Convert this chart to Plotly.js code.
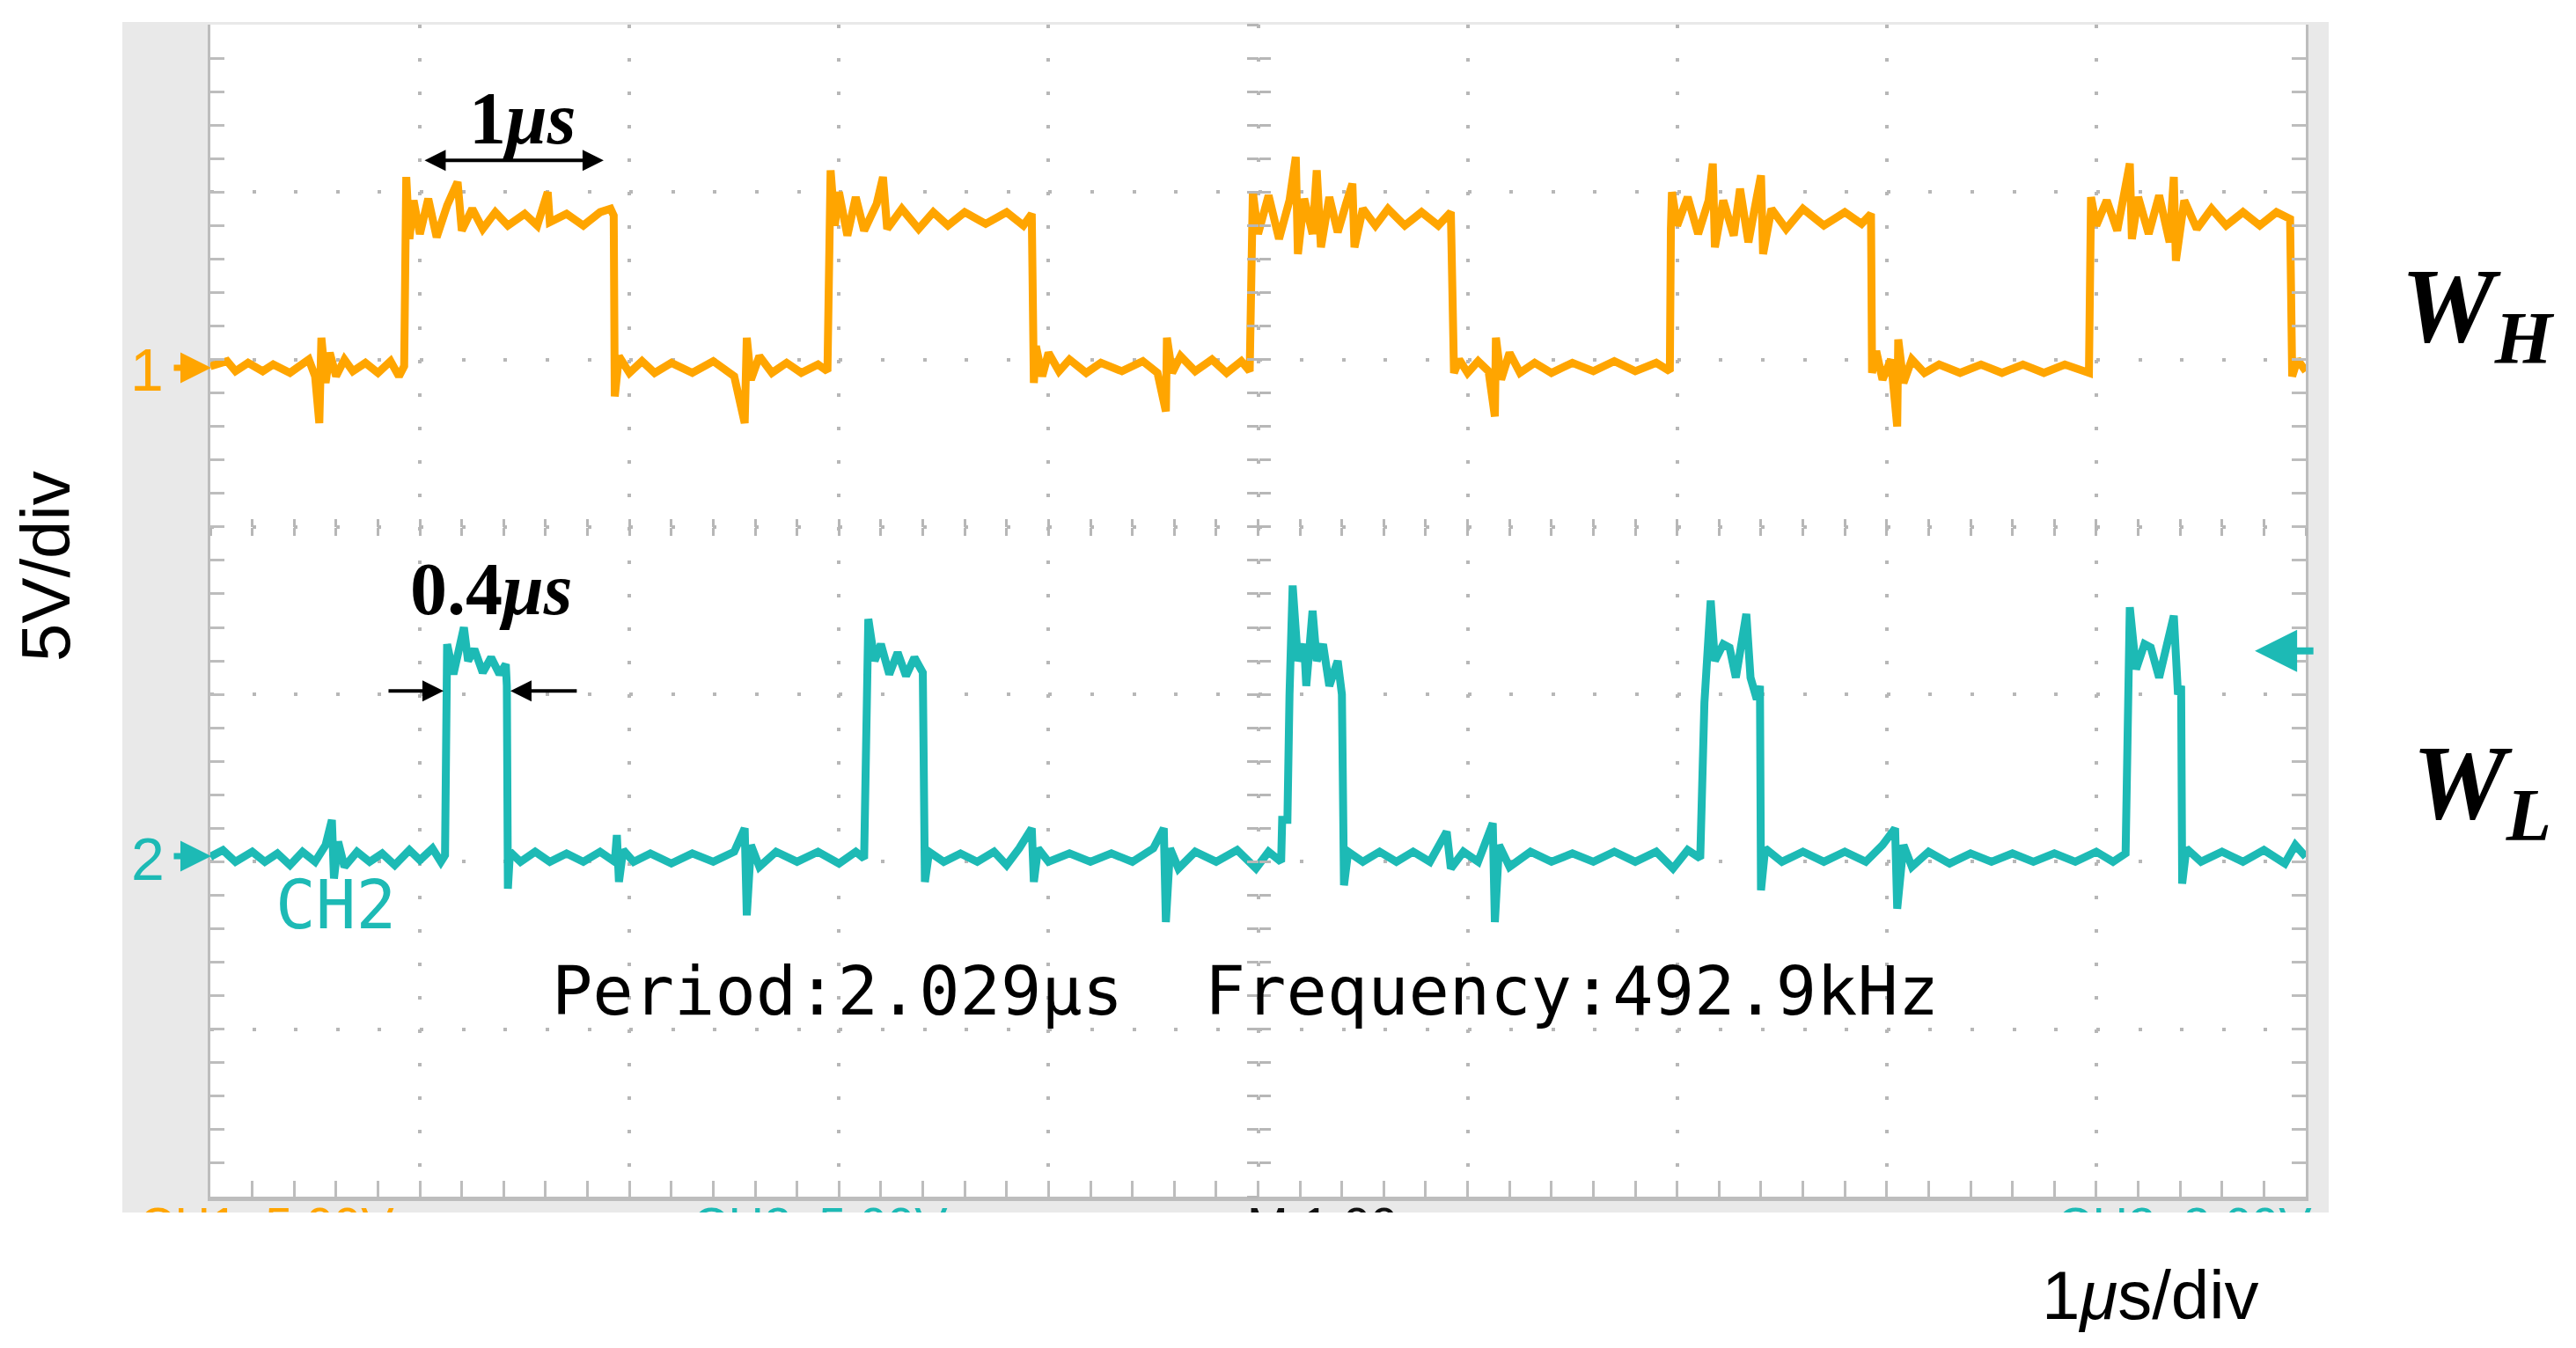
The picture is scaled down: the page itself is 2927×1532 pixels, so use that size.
<!DOCTYPE html>
<html>
<head>
<meta charset="utf-8">
<script src="https://cdn.plot.ly/plotly-3.0.1.min.js"></script>
<style>
html,body{margin:0;padding:0;background:#ffffff;}
#chart{width:2927px;height:1532px;}
</style>
</head>
<body>
<div id="chart"></div>
<script>
// ---------------- data (x in µs = divisions, y in divisions) ----------------
const ch1Time = [0,0.08,0.12,0.18,0.25,0.3,0.38,0.42,0.47,0.5,0.52,0.53,0.55,0.57,0.6,0.64,0.68,0.74,0.8,0.86,0.9,0.925,
 0.93,0.935,0.95,0.97,1.0,1.04,1.08,1.13,1.18,1.2,1.25,1.3,1.36,1.42,1.5,1.56,1.61,1.62,1.7,1.78,1.86,1.91,1.925,
 1.93,1.95,2.0,2.06,2.12,2.2,2.3,2.4,2.5,2.55,2.56,2.58,2.62,2.68,2.75,2.82,2.9,2.945,
 2.955,2.96,2.98,3.0,3.04,3.08,3.12,3.18,3.21,3.23,3.3,3.38,3.45,3.52,3.6,3.7,3.8,3.88,3.92,
 3.93,3.94,3.97,4.0,4.05,4.1,4.18,4.25,4.35,4.45,4.52,4.56,4.565,4.59,4.63,4.7,4.78,4.85,4.92,4.96,
 4.97,4.975,5.0,5.05,5.1,5.15,5.18,5.19,5.22,5.26,5.28,5.3,5.34,5.38,5.42,5.45,5.46,5.5,5.56,5.62,5.7,5.78,5.86,5.92,
 5.935,5.96,6.0,6.05,6.1,6.13,6.135,6.16,6.2,6.25,6.32,6.4,6.5,6.6,6.7,6.8,6.9,6.965,
 6.97,6.975,7.0,7.05,7.1,7.15,7.17,7.18,7.22,7.27,7.3,7.34,7.38,7.4,7.41,7.45,7.52,7.6,7.7,7.8,7.88,7.925,
 7.93,7.95,7.98,8.02,8.05,8.055,8.08,8.12,8.18,8.25,8.35,8.45,8.55,8.65,8.75,8.85,8.965,
 8.97,8.975,9.0,9.05,9.1,9.16,9.17,9.2,9.25,9.3,9.35,9.37,9.38,9.42,9.48,9.55,9.62,9.7,9.78,9.86,9.925,
 9.935,9.96,10];
const ch1Level = [4.96,4.99,4.93,4.98,4.93,4.97,4.92,4.96,5.0,4.9,4.62,5.13,4.86,5.04,4.9,5.0,4.93,4.98,4.92,4.99,4.9,4.96,
 5.7,6.09,5.72,5.95,5.75,5.96,5.73,5.92,6.06,5.77,5.9,5.78,5.88,5.8,5.87,5.8,6.0,5.82,5.87,5.8,5.88,5.9,5.86,
 4.78,5.02,4.92,4.99,4.92,4.98,4.92,4.99,4.9,4.62,5.13,4.88,5.02,4.92,4.98,4.92,4.97,4.93,
 5.7,6.13,5.8,6.0,5.74,5.97,5.77,5.93,6.09,5.78,5.9,5.78,5.88,5.8,5.88,5.81,5.88,5.8,5.87,
 4.86,5.08,4.9,5.04,4.93,5.0,4.92,4.98,4.93,4.99,4.92,4.69,5.13,4.92,5.02,4.93,5.0,4.92,4.99,4.93,
 5.8,6.0,5.75,5.98,5.72,5.95,6.21,5.63,5.96,5.75,6.13,5.67,5.97,5.76,5.93,6.05,5.67,5.9,5.8,5.9,5.8,5.88,5.8,5.88,
 4.92,5.0,4.92,4.99,4.93,4.66,5.13,4.88,5.04,4.92,4.98,4.92,4.98,4.93,4.99,4.93,4.98,4.93,
 5.78,6.0,5.8,5.97,5.75,5.95,6.17,5.67,5.95,5.74,6.02,5.7,5.97,6.1,5.63,5.9,5.78,5.9,5.8,5.88,5.81,5.87,
 4.92,5.05,4.88,5.0,4.6,5.12,4.86,5.0,4.92,4.97,4.92,4.97,4.92,4.97,4.92,4.97,4.92,
 5.82,5.97,5.8,5.95,5.77,6.17,5.72,5.97,5.75,5.98,5.7,6.09,5.59,5.95,5.78,5.9,5.8,5.88,5.8,5.88,5.84,
 4.9,5.0,4.93];

const ch2Time = [0,0.06,0.12,0.2,0.26,0.32,0.38,0.44,0.5,0.55,0.58,0.59,0.61,0.64,0.7,0.76,0.82,0.88,0.95,1.0,1.06,1.1,1.12,
 1.126,1.13,1.16,1.2,1.21,1.23,1.26,1.3,1.34,1.38,1.41,1.415,
 1.42,1.43,1.48,1.55,1.62,1.7,1.78,1.86,1.93,1.94,1.95,1.97,2.02,2.1,2.2,2.3,2.4,2.5,2.55,2.56,2.58,2.62,2.7,2.8,2.9,3.0,3.08,3.12,
 3.13,3.14,3.17,3.2,3.24,3.28,3.32,3.36,3.4,
 3.41,3.43,3.5,3.58,3.66,3.74,3.8,3.86,3.92,3.93,3.95,4.0,4.1,4.2,4.3,4.4,4.5,4.55,4.56,4.58,4.62,4.7,4.8,4.9,4.99,5.05,5.11,
 5.115,5.14,5.15,5.165,5.19,5.22,5.23,5.26,5.28,5.31,5.34,5.38,5.4,
 5.41,5.43,5.5,5.58,5.66,5.74,5.82,5.9,5.92,5.98,6.05,6.12,6.13,6.15,6.2,6.3,6.4,6.5,6.6,6.7,6.8,6.9,6.98,7.05,7.11,
 7.13,7.16,7.18,7.22,7.25,7.28,7.33,7.35,7.38,7.395,
 7.4,7.42,7.5,7.6,7.7,7.8,7.9,7.98,8.04,8.05,8.08,8.12,8.2,8.3,8.4,8.5,8.6,8.7,8.8,8.9,9.0,9.08,9.14,
 9.15,9.16,9.19,9.23,9.26,9.3,9.37,9.39,9.405,
 9.41,9.43,9.5,9.6,9.7,9.8,9.9,9.95,10];
const ch2Level = [2.03,2.07,2.0,2.06,2.0,2.05,1.98,2.06,2.0,2.1,2.25,1.9,2.12,1.97,2.06,2.0,2.05,1.98,2.07,2.01,2.08,2.0,2.04,
 2.93,3.3,3.12,3.35,3.4,3.2,3.27,3.13,3.22,3.12,3.18,3.05,
 1.84,2.06,2.0,2.06,2.0,2.05,2.0,2.06,2.0,2.16,1.88,2.07,2.0,2.05,1.99,2.05,2.0,2.06,2.2,1.68,2.1,1.97,2.06,2.0,2.06,1.99,2.06,2.02,
 3.0,3.45,3.2,3.3,3.12,3.25,3.11,3.22,3.13,
 1.88,2.06,2.0,2.05,2.0,2.06,1.98,2.08,2.2,1.88,2.08,2.0,2.05,2.0,2.05,2.0,2.08,2.2,1.64,2.08,1.96,2.06,2.0,2.07,1.96,2.06,2.0,
 2.25,2.25,3.0,3.65,3.2,3.3,3.05,3.5,3.2,3.3,3.05,3.2,3.0,
 1.86,2.06,2.0,2.06,2.0,2.06,2.0,2.18,1.96,2.06,2.0,2.23,1.64,2.1,1.97,2.06,2.0,2.05,2.0,2.06,2.0,2.06,1.96,2.07,2.02,
 2.95,3.56,3.2,3.3,3.28,3.1,3.48,3.1,2.97,3.05,
 1.83,2.08,2.0,2.06,2.0,2.06,2.0,2.1,2.2,1.72,2.1,1.97,2.06,1.99,2.05,2.0,2.05,2.0,2.05,2.0,2.06,2.0,2.05,
 3.0,3.52,3.15,3.3,3.28,3.1,3.47,3.0,3.05,
 1.87,2.08,2.0,2.06,2.0,2.07,1.99,2.1,2.03];

const channelLabels = ['W', 'H', 'L'];
const channelMarks = ['1', '2', 'CH2'];
const pulseLabels = ['1', '0.4'];
const measurementText = 'Period:2.029μs  Frequency:492.9kHz';
const readoutTexts = ['CH1  5.00V', 'CH2  5.00V', 'M 1.00μs', 'CH2  2.60V'];
const scaleLabels = ['5V/div', '1<i>μ</i>s/div'];

// ---------------- geometry & style ----------------
const W = 2927, H = 1532;
const PX = x => x / W;
const PY = y => 1 - y / H;
const L = 239, R = 2620, T = 28, B = 1360;
const ORANGE = '#FFA500', TEAL = '#1DBAB5', GRID = '#b7b7b7', AX = '#bdbdbd';
const xDiv = (R - L) / 10, yDiv = (B - T) / 7;

const traces = [
  {type:'scatter', mode:'lines', x: ch1Time, y: ch1Level, line:{color:ORANGE, width:9}, hoverinfo:'skip'},
  {type:'scatter', mode:'lines', x: ch2Time, y: ch2Level, line:{color:TEAL, width:9}, hoverinfo:'skip'},
  {type:'scatter', x:[], y:[], xaxis:'x', yaxis:'y3', hoverinfo:'skip'},
  {type:'scatter', x:[], y:[], xaxis:'x', yaxis:'y4', hoverinfo:'skip'},
  {type:'scatter', x:[], y:[], xaxis:'x3', yaxis:'y', hoverinfo:'skip'},
  {type:'scatter', x:[], y:[], xaxis:'x4', yaxis:'y', hoverinfo:'skip'},
  {type:'scatter', mode:'text', xaxis:'x5', yaxis:'y5', cliponaxis:true, hoverinfo:'skip',
   x:[158, 787, 1417, 2337], y:[1369,1369,1369,1369], text: readoutTexts, textposition:'bottom right',
   textfont:{family:'Liberation Sans, Arial, sans-serif', size:56, color:[ORANGE, TEAL, '#111111', TEAL]}}
];

const centerTicks = (ticks, len) => ({ticks: ticks, ticklen: len, tickwidth: 3, tickcolor: GRID,
  tickmode:'linear', tick0:0, dtick:0.2, showline:false, showgrid:false, zeroline:false, showticklabels:false});

const C = {xanchor:'center', yanchor:'middle', showarrow:false};
const ann = o => Object.assign({}, C, o);

const layout = {
  width: W, height: H,
  margin: {l:0, r:0, t:0, b:0, pad:0},
  paper_bgcolor: '#ffffff', plot_bgcolor: 'rgba(0,0,0,0)',
  showlegend: false,
  font: {family: 'Liberation Sans, Arial, sans-serif', color: '#000'},
  xaxis: {domain:[PX(L), PX(R)], range:[0,10], anchor:'y', showticklabels:false,
    showline:true, linecolor:AX, linewidth:5, mirror:false,
    ticks:'inside', ticklen:18, tickwidth:3, tickcolor:AX, tickmode:'linear', tick0:0, dtick:1,
    minor:{tickmode:'linear', tick0:0, dtick:0.2, ticks:'inside', ticklen:18, tickwidth:3, tickcolor:AX, showgrid:false},
    showgrid:true, gridcolor:GRID, gridwidth:4, griddash:'4px,' + (yDiv/5 - 4).toFixed(2) + 'px', zeroline:false},
  yaxis: {domain:[PY(B), PY(T)], range:[0,7], anchor:'x', showticklabels:false,
    showline:true, linecolor:AX, linewidth:3, mirror:'ticks',
    ticks:'inside', ticklen:16, tickwidth:3, tickcolor:AX, tickmode:'linear', tick0:0, dtick:1,
    minor:{tickmode:'linear', tick0:0, dtick:0.2, ticks:'inside', ticklen:16, tickwidth:3, tickcolor:AX, showgrid:false},
    showgrid:true, gridcolor:GRID, gridwidth:4, griddash:'4px,' + (xDiv/5 - 4).toFixed(2) + 'px', zeroline:false},
  yaxis3: Object.assign({overlaying:'y', anchor:'free', side:'left', position:PX(L + 5*xDiv), range:[0,7]}, centerTicks('inside', 13)),
  yaxis4: Object.assign({overlaying:'y', anchor:'free', side:'left', position:PX(L + 5*xDiv), range:[0,7]}, centerTicks('outside', 13)),
  xaxis3: Object.assign({overlaying:'x', anchor:'free', side:'bottom', position:PY(B - 4*yDiv), range:[0,10]}, centerTicks('inside', 9)),
  xaxis4: Object.assign({overlaying:'x', anchor:'free', side:'bottom', position:PY(B - 4*yDiv), range:[0,10]}, centerTicks('outside', 9)),
  xaxis5: {domain:[PX(139), PX(2646)], range:[139, 2646], anchor:'y5', visible:false, fixedrange:true},
  yaxis5: {domain:[PY(1378), PY(1363)], range:[1378, 1363], anchor:'x5', visible:false, fixedrange:true},
  shapes: [
    {type:'rect', xref:'paper', yref:'paper', x0:PX(139), x1:PX(2646), y0:PY(1378), y1:PY(25),
     fillcolor:'#e9e9e9', line:{width:0}, layer:'below'},
    {type:'rect', xref:'paper', yref:'paper', x0:PX(L), x1:PX(R), y0:PY(B), y1:PY(T),
     fillcolor:'#ffffff', line:{width:0}, layer:'below'}
  ],
  annotations: [
    // pulse-width labels
    ann({xref:'x', yref:'y', x:1.487, y:6.44,
     text:'<b>' + pulseLabels[0] + '<i>μs</i></b>', font:{family:'Liberation Serif, Times New Roman, serif', size:84, color:'#000'}}),
    {xref:'x', yref:'y', x:1.877, y:6.19, axref:'x', ayref:'y', ax:1.016, ay:6.19, text:'', showarrow:true,
     arrowside:'end+start', arrowhead:2, startarrowhead:2, arrowsize:1.2, startarrowsize:1.2, arrowwidth:4, arrowcolor:'#000'},
    ann({xref:'x', yref:'y', x:1.34, y:3.63,
     text:'<b>' + pulseLabels[1] + '<i>μs</i></b>', font:{family:'Liberation Serif, Times New Roman, serif', size:84, color:'#000'}}),
    {xref:'x', yref:'y', x:1.113, y:3.02, axref:'x', ayref:'y', ax:0.844, ay:3.02, text:'', showarrow:true,
     arrowhead:2, arrowsize:1.2, arrowwidth:4, arrowcolor:'#000'},
    {xref:'x', yref:'y', x:1.432, y:3.02, axref:'x', ayref:'y', ax:1.755, ay:3.02, text:'', showarrow:true,
     arrowhead:2, arrowsize:1.2, arrowwidth:4, arrowcolor:'#000'},
    // measurement readout
    ann({xref:'x', yref:'y', x:4.94, y:1.226, text: measurementText,
     font:{family:'DejaVu Sans Mono, monospace', size:77, color:'#000'}}),
    ann({xref:'x', yref:'y', x:0.6, y:1.74, text: channelMarks[2],
     font:{family:'DejaVu Sans Mono, monospace', size:76, color:TEAL}}),
    // channel ground markers
    ann({xref:'paper', yref:'paper', x:PX(167), y:PY(420), text: channelMarks[0],
     font:{family:'Liberation Sans, Arial, sans-serif', size:68, color:ORANGE}}),
    {xref:'paper', yref:'paper', x:PX(240), y:PY(418), ax:-44, ay:0, text:'', showarrow:true,
     arrowhead:2, arrowsize:1, arrowwidth:7, arrowcolor:ORANGE},
    ann({xref:'paper', yref:'paper', x:PX(168), y:PY(976), text: channelMarks[1],
     font:{family:'Liberation Sans, Arial, sans-serif', size:68, color:TEAL}}),
    {xref:'paper', yref:'paper', x:PX(240), y:PY(973), ax:-44, ay:0, text:'', showarrow:true,
     arrowhead:2, arrowsize:1, arrowwidth:7, arrowcolor:TEAL},
    // trigger level arrow
    {xref:'x', yref:'y', x:9.757, y:3.26, ax:68, ay:0, text:'', showarrow:true,
     arrowhead:2, arrowsize:1.2, arrowwidth:8, arrowcolor:TEAL},
    // channel names
    ann({xref:'paper', yref:'paper', x:PX(2815), y:PY(356),
     text:'<b><i>' + channelLabels[0] + '<sub>' + channelLabels[1] + '</sub></i></b>',
     font:{family:'Liberation Serif, Times New Roman, serif', size:120, color:'#000'}}),
    ann({xref:'paper', yref:'paper', x:PX(2820), y:PY(898),
     text:'<b><i>' + channelLabels[0] + '<sub>' + channelLabels[2] + '</sub></i></b>',
     font:{family:'Liberation Serif, Times New Roman, serif', size:120, color:'#000'}}),
    // scale labels
    ann({xref:'paper', yref:'paper', x:PX(52), y:PY(644), textangle:-90, text: scaleLabels[0],
     font:{family:'Liberation Sans, Arial, sans-serif', size:78, color:'#000'}}),
    ann({xref:'paper', yref:'paper', x:PX(2443), y:PY(1472), text: scaleLabels[1],
     font:{family:'Liberation Sans, Arial, sans-serif', size:78, color:'#000'}})
  ]
};

Plotly.newPlot('chart', traces, layout, {displayModeBar:false, staticPlot:true});
</script>
</body>
</html>
